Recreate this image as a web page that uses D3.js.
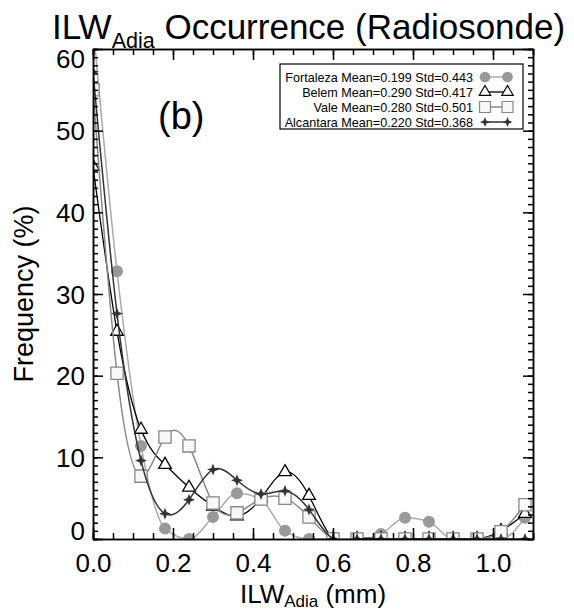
<!DOCTYPE html>
<html>
<head>
<meta charset="utf-8">
<script src="https://cdn.jsdelivr.net/npm/d3@7"></script>
<style>
  body { margin: 0; background: #fff; }
  svg { display: block; font-family: "Liberation Sans", Arial, sans-serif; }
  .axis path, .axis line { stroke: #000; stroke-width: 1.5; }
  .axis text { font-size: 26px; fill: #000; font-family: "Liberation Sans", Arial, sans-serif; }
</style>
</head>
<body>
<div id="chart"></div>
<script>
// bin centres (mm) and frequencies (%)
var xBins = [0.00, 0.06, 0.12, 0.18, 0.24, 0.30, 0.36, 0.42, 0.48, 0.54,
             0.60, 0.66, 0.72, 0.78, 0.84, 0.90, 0.96, 1.02, 1.08];
var fortaleza = [63.0, 32.8, 11.4, 1.3, 0.0, 2.7, 5.6, 4.8, 1.0, 0.0,
                 0.0, 0.0, 0.6, 2.6, 2.1, 0.0, 0.0, 0.0, 2.6];
var belem = [45.6, 25.4, 13.4, 9.1, 6.3, 4.0, 2.8, 5.0, 8.2, 5.3,
             0.0, 0.0, 0.0, 0.0, 0.0, 0.0, 0.0, 1.0, 3.1];
var vale = [55.0, 20.3, 7.7, 12.5, 11.4, 4.4, 3.2, 4.9, 5.0, 2.7,
            0.0, 0.0, 0.0, 0.0, 0.0, 0.0, 0.0, 0.9, 4.2];
var alcantara = [57.2, 27.6, 9.6, 3.1, 4.8, 8.5, 7.2, 5.5, 5.9, 3.6,
                 0.0, 0.0, 0.0, 0.0, 0.0, 0.0, 0.0, 0.0, 0.0];

var stations = ["Fortaleza", "Belem", "Vale", "Alcantara"];
var means = ["0.199", "0.290", "0.280", "0.220"];
var stds = ["0.443", "0.417", "0.501", "0.368"];

var xTicks = [0.0, 0.2, 0.4, 0.6, 0.8, 1.0];
var yTicks = [0, 10, 20, 30, 40, 50, 60];

var svgWidth = 574, svgHeight = 612;
var margin = { top: 49, right: 41, bottom: 73, left: 93 };
var width = svgWidth - margin.left - margin.right;
var height = svgHeight - margin.top - margin.bottom;

var svg = d3.select("#chart").append("svg")
    .attr("width", svgWidth)
    .attr("height", svgHeight);

var g = svg.append("g")
    .attr("transform", `translate(${margin.left}, ${margin.top})`);

var x = d3.scaleLinear().domain([0, 1.1]).range([0, width]);
var y = d3.scaleLinear().domain([0, 60]).range([height, 0]);

// one style per station
var styles = [
    { data: fortaleza, line: "#aaaaaa", lw: 1.5, sym: d3.symbolCircle, size: 113, fill: "#999999", stroke: "none", curve: d3.curveMonotoneX },
    { data: belem, line: "#000000", lw: 1.3, sym: d3.symbolTriangle, size: 70, fill: "#ffffff", stroke: "#000000", curve: d3.curveNatural },
    { data: vale, line: "#888888", lw: 1.5, sym: d3.symbolSquare, size: 150, fill: "#f8f8f8", stroke: "#888888", curve: d3.curveNatural },
    { data: alcantara, line: "#333333", lw: 1.5, sym: null, size: 6, fill: "#333333", stroke: "none", curve: d3.curveNatural }
];

// 4-point star for Alcantara
var star4 = {
    draw: function(ctx, size) {
        var r = size, w = size * 0.28;
        ctx.moveTo(0, -r);
        ctx.lineTo(w, -w);
        ctx.lineTo(r, 0);
        ctx.lineTo(w, w);
        ctx.lineTo(0, r);
        ctx.lineTo(-w, w);
        ctx.lineTo(-r, 0);
        ctx.lineTo(-w, -w);
        ctx.closePath();
    }
};
styles[3].sym = star4;

// clip for the data
g.append("clipPath").attr("id", "plotclip")
  .append("rect").attr("x", 0).attr("y", 0).attr("width", width).attr("height", height);

var plot = g.append("g").attr("clip-path", "url(#plotclip)");

styles.forEach(function(s) {
    var pts = xBins.map(function(b, i) { return [b, s.data[i]]; });
    var line = d3.line()
        .x(d => x(d[0]))
        .y(d => y(d[1]))
        .curve(s.curve);
    plot.append("path")
        .datum(pts)
        .attr("d", line)
        .attr("fill", "none")
        .attr("stroke", s.line)
        .attr("stroke-width", s.lw);
    plot.selectAll(null)
        .data(pts)
        .enter()
        .append("path")
        .attr("transform", d => `translate(${x(d[0])}, ${y(d[1])})`)
        .attr("d", d3.symbol().type(s.sym).size(s.size))
        .attr("fill", s.fill)
        .attr("stroke", s.stroke)
        .attr("stroke-width", 1.3);
});

// axes: major + minor ticks on all four sides, pointing inward
var xMinor = d3.range(0, 1.1001, 0.05);
var yMinor = d3.range(0, 61, 1);

g.append("g").attr("class", "axis")
    .attr("transform", `translate(0, ${height})`)
    .call(d3.axisBottom(x).tickValues(xMinor).tickSize(-6).tickFormat(""));
g.append("g").attr("class", "axis")
    .attr("transform", `translate(0, ${height})`)
    .call(d3.axisBottom(x).tickValues(xTicks).tickSize(-11).tickSizeOuter(0).tickPadding(15).tickFormat(d3.format(".1f")));
g.append("g").attr("class", "axis")
    .call(d3.axisTop(x).tickValues(xMinor).tickSize(-6).tickFormat(""));
g.append("g").attr("class", "axis")
    .call(d3.axisTop(x).tickValues(xTicks).tickSize(-11).tickSizeOuter(0).tickFormat(""));

g.append("g").attr("class", "axis")
    .call(d3.axisLeft(y).tickValues(yMinor).tickSize(-5).tickFormat(""));
var yAxis = g.append("g").attr("class", "axis")
    .call(d3.axisLeft(y).tickValues(yTicks).tickSize(-10).tickSizeOuter(0).tickPadding(8));
g.append("g").attr("class", "axis")
    .attr("transform", `translate(${width}, 0)`)
    .call(d3.axisRight(y).tickValues(yMinor).tickSize(-5).tickFormat(""));
g.append("g").attr("class", "axis")
    .attr("transform", `translate(${width}, 0)`)
    .call(d3.axisRight(y).tickValues(yTicks).tickSize(-10).tickSizeOuter(0).tickFormat(""));

// end labels are kept inside the axis span
yAxis.selectAll(".tick text")
    .attr("dy", d => d === 0 ? "0em" : (d === 60 ? "0.7em" : "0.35em"));

// title
var title = svg.append("text")
    .attr("x", 52).attr("y", 39)
    .attr("font-size", "35px");
title.append("tspan").text("ILW");
title.append("tspan").attr("font-size", "21.5px").attr("dy", 9).text("Adia");
title.append("tspan").attr("dy", -9).text(" Occurrence (Radiosonde)");

// x axis title
var xt = svg.append("text")
    .attr("x", margin.left + width / 2).attr("y", 603)
    .attr("text-anchor", "middle")
    .attr("font-size", "26px");
xt.append("tspan").text("ILW");
xt.append("tspan").attr("font-size", "17px").attr("dy", 4).text("Adia");
xt.append("tspan").attr("dy", -4).text(" (mm)");

// y axis title
svg.append("text")
    .attr("transform", `translate(33, ${margin.top + height / 2}) rotate(-90)`)
    .attr("text-anchor", "middle")
    .attr("font-size", "27px")
    .text("Frequency (%)");

// panel label
svg.append("text")
    .attr("x", 158).attr("y", 129)
    .attr("font-size", "38px")
    .text("(b)");

// legend
var legend = svg.append("g");
legend.append("rect")
    .attr("x", 280).attr("y", 64)
    .attr("width", 243).attr("height", 65)
    .attr("fill", "#fff")
    .attr("stroke", "#000")
    .attr("stroke-width", 1.2);

stations.forEach(function(name, i) {
    var s = styles[i];
    var ly = 77 + i * 15;
    legend.append("text")
        .attr("x", 473).attr("y", ly + 5)
        .attr("text-anchor", "end")
        .attr("font-size", "12.6px")
        .text(`${name} Mean=${means[i]} Std=${stds[i]}`);
    legend.append("line")
        .attr("x1", 485).attr("x2", 507.5)
        .attr("y1", ly).attr("y2", ly)
        .attr("stroke", s.line)
        .attr("stroke-width", s.lw);
    [485, 507.5].forEach(function(mx) {
        legend.append("path")
            .attr("transform", `translate(${mx}, ${ly})`)
            .attr("d", d3.symbol().type(s.sym).size(s.sym === star4 ? 5 : s.size * 0.8))
            .attr("fill", s.fill)
            .attr("stroke", s.stroke)
            .attr("stroke-width", 1.2);
    });
});
</script>
</body>
</html>
